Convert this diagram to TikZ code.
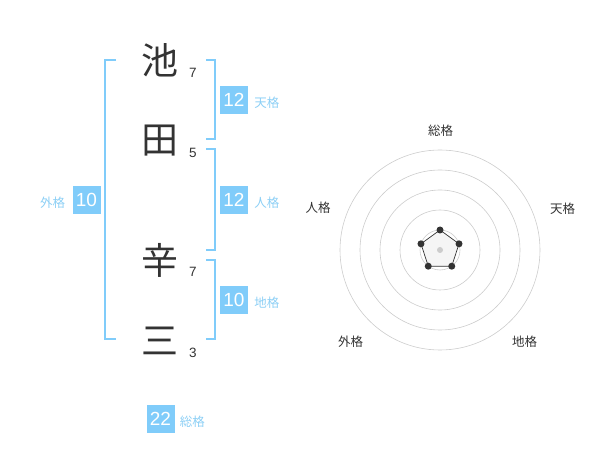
\documentclass[tikz,border=0pt]{standalone}
\usepackage{fontspec}
\setmainfont{Liberation Sans}
\newfontfamily\jp{Noto Sans CJK JP}
\usetikzlibrary{positioning,calc}
\definecolor{ink}{HTML}{333333}
\definecolor{sky}{HTML}{80CCFA}
\definecolor{skytext}{HTML}{8CCFF5}
\definecolor{ringgray}{HTML}{CCCCCC}
\definecolor{polyfill}{HTML}{EEEEEE}

\begin{document}
\begin{tikzpicture}%
  [x=1pt,y=-1pt,
   kanji/.style=
    {text=ink,inner sep=0pt,font=\jp\fontsize{37}{37}\selectfont},
   strokes/.style=
    {text=ink,inner sep=0pt,font=\fontsize{13.5}{14}\selectfont},
   score/.style=
    {fill=sky,text=white,minimum size=28pt,inner sep=0pt,font=\fontsize{19}{19}\selectfont},
   kaku/.style=
    {text=skytext,inner sep=0pt,font=\jp\fontsize{12.5}{13}\selectfont},
   axis/.style=
    {text=ink,inner sep=0pt,font=\jp\fontsize{12.5}{13}\selectfont},
   bracket/.style={draw=sky,line width=1.6pt},
   ring/.style={draw=ringgray,line width=0.6pt},
   vertex/.style={circle,fill=ink,inner sep=0pt,minimum size=7pt}
  ]
  \useasboundingbox (0,0) rectangle (600,470);
  % name
  \node[kanji] (k1) at (160,60) {池};
  \node[kanji] (k2) at (160,141) {田};
  \node[kanji] (k3) at (160,260) {辛};
  \node[kanji] (k4) at (160,341) {三};
  \node[strokes] (s1) at (193,73) {7};
  \node[strokes] (s2) at (193,153) {5};
  \node[strokes] (s3) at (193,272) {7};
  \node[strokes] (s4) at (193,353) {3};
  % brackets
  \draw[bracket] (116,60) -| (105,339) -- (116,339);
  \draw[bracket] (206,60) -| (215,139) -- (206,139);
  \draw[bracket] (206,149) -| (215,250) -- (206,250);
  \draw[bracket] (206,260) -| (215,339) -- (206,339);
  % scores
  \node[score] (ten) at (234,100) {12};
  \node[kaku,right=6pt of ten,yshift=-3pt] (tenl) {天格};
  \node[score] (jin) at (234,200) {12};
  \node[kaku,right=6pt of jin,yshift=-3pt] (jinl) {人格};
  \node[score] (chi) at (234,300) {10};
  \node[kaku,right=6pt of chi,yshift=-3pt] (chil) {地格};
  \node[score] (gai) at (86.5,200) {10};
  \node[kaku,left=7pt of gai,yshift=-3pt] (gail) {外格};
  \node[score] (sou) at (160.5,419) {22};
  \node[kaku,right=5pt of sou,yshift=-3pt] (soul) {総格};
  % radar
  \coordinate (c) at (440,250);
  \foreach \r in {20,40,...,100}
    \draw[ring] (c) circle (\r);
  \foreach \n/\a in {p1/90,p2/18,p3/-54,p4/-126,p5/162}
    \coordinate (\n) at ($(c)+(-\a:20)$);
  \draw[ink,fill=polyfill,fill opacity=0.6,line width=0.7pt]
    (p1) -- (p2) -- (p3) -- (p4) -- (p5) -- cycle;
  \fill[ringgray] (c) circle (3);
  \foreach \n in {p1,p2,p3,p4,p5}
    \node[vertex] at (\n) {};
  \node[axis] (a1) at (440.5,131) {総格};
  \node[axis] (a2) at (562.5,209) {天格};
  \node[axis] (a3) at (524.5,342) {地格};
  \node[axis] (a4) at (350.5,342) {外格};
  \node[axis] (a5) at (318,208) {人格};

\end{tikzpicture}
\end{document}
